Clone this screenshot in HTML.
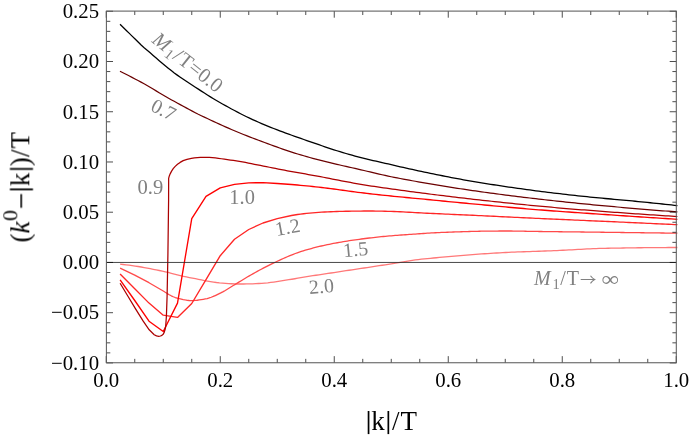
<!DOCTYPE html>
<html><head><meta charset="utf-8"><title>plot</title>
<style>
html,body{margin:0;padding:0;background:#fff;}
body{width:689px;height:436px;overflow:hidden;font-family:"Liberation Serif",serif;}
svg{display:block;}
svg text{font-family:"Liberation Serif",serif;}
.tl{font-size:20.8px;fill:#000;}
.cl{font-size:20px;fill:#808080;}
.ax{font-size:27px;fill:#000;}
.it{font-style:italic;}
</style></head><body>
<svg width="689" height="436" viewBox="0 0 689 436">
<rect x="0" y="0" width="689" height="436" fill="#ffffff"/>
<g fill="none" stroke-linejoin="round" stroke-linecap="butt">
<polyline points="120.10,264.20 123.11,264.49 126.12,264.82 129.14,265.19 132.15,265.59 135.16,266.03 138.17,266.51 141.19,267.01 144.20,267.54 147.21,268.10 150.22,268.67 153.24,269.27 156.25,269.88 159.26,270.51 162.27,271.15 165.29,271.80 168.30,272.48 171.31,273.29 174.32,274.12 177.34,274.89 180.35,275.61 183.36,276.29 186.37,276.92 189.39,277.52 192.40,278.12 195.41,278.70 198.42,279.30 201.44,279.93 204.45,280.54 207.46,281.06 210.47,281.58 213.49,282.06 216.50,282.49 219.51,282.85 222.52,283.12 225.54,283.35 228.55,283.56 231.56,283.75 234.57,283.89 237.58,283.98 240.60,284.00 243.61,283.98 246.62,283.95 249.63,283.91 252.65,283.83 255.66,283.70 258.67,283.52 261.68,283.31 264.70,283.08 267.71,282.79 270.72,282.43 273.73,282.02 276.75,281.58 279.76,281.12 282.77,280.65 285.78,280.19 288.80,279.73 291.81,279.25 294.82,278.74 297.83,278.22 300.85,277.69 303.86,277.17 306.87,276.66 309.88,276.17 312.90,275.70 315.91,275.24 318.92,274.78 321.93,274.33 324.95,273.89 327.96,273.44 330.97,272.99 333.98,272.54 337.00,272.08 340.01,271.63 343.02,271.17 346.03,270.72 349.04,270.26 352.06,269.81 355.07,269.36 358.08,268.90 361.09,268.45 364.11,268.00 367.12,267.55 370.13,267.10 373.14,266.64 376.16,266.18 379.17,265.72 382.18,265.25 385.19,264.78 388.21,264.30 391.22,263.82 394.23,263.34 397.24,262.86 400.26,262.37 403.27,261.87 406.28,261.36 409.29,260.86 412.31,260.39 415.32,259.95 418.33,259.56 421.34,259.21 424.36,258.89 427.37,258.58 430.38,258.29 433.39,258.01 436.41,257.73 439.42,257.45 442.43,257.17 445.44,256.89 448.46,256.62 451.47,256.34 454.48,256.08 457.49,255.81 460.50,255.56 463.52,255.30 466.53,255.05 469.54,254.80 472.55,254.56 475.57,254.35 478.58,254.14 481.59,253.93 484.60,253.73 487.62,253.53 490.63,253.34 493.64,253.15 496.65,252.98 499.67,252.81 502.68,252.64 505.69,252.49 508.70,252.35 511.72,252.21 514.73,252.09 517.74,251.97 520.75,251.86 523.77,251.76 526.78,251.66 529.79,251.56 532.80,251.46 535.82,251.35 538.83,251.24 541.84,251.13 544.85,251.01 547.87,250.90 550.88,250.78 553.89,250.65 556.90,250.53 559.92,250.40 562.93,250.27 565.94,250.12 568.95,249.96 571.96,249.80 574.98,249.63 577.99,249.46 581.00,249.30 584.01,249.13 587.03,248.97 590.04,248.82 593.05,248.68 596.06,248.56 599.08,248.45 602.09,248.36 605.10,248.30 608.11,248.24 611.13,248.19 614.14,248.13 617.15,248.08 620.16,248.03 623.18,247.98 626.19,247.93 629.20,247.89 632.21,247.85 635.23,247.80 638.24,247.77 641.25,247.73 644.26,247.69 647.28,247.66 650.29,247.63 653.30,247.61 656.31,247.58 659.33,247.56 662.34,247.54 665.35,247.53 668.36,247.52 671.38,247.51 674.39,247.50 677.40,247.50" stroke="#ff7878" stroke-width="1.30"/>
<polyline points="120.10,268.10 134.75,275.20 149.00,282.70 163.25,291.00 165.25,292.32 167.25,293.57 169.25,294.74 171.25,295.80 173.25,296.73 175.25,297.52 177.25,298.14 179.25,298.64 181.26,299.13 183.26,299.58 185.26,299.97 187.26,300.28 189.26,300.50 191.26,300.60 193.26,300.57 195.26,300.45 197.26,300.25 199.26,299.98 201.26,299.67 203.26,299.32 205.26,298.94 207.26,298.52 209.26,297.95 211.26,297.25 213.26,296.44 215.27,295.55 217.27,294.62 219.27,293.67 221.27,292.70 223.27,291.65 225.27,290.50 227.27,289.29 229.27,288.04 231.27,286.78 233.27,285.54 235.27,284.34 237.27,283.13 239.27,281.91 241.27,280.68 243.27,279.46 245.27,278.25 247.27,277.06 249.28,275.90 251.28,274.75 253.28,273.61 255.28,272.48 257.28,271.37 259.28,270.28 261.28,269.21 263.28,268.15 265.28,267.12 267.28,266.11 269.28,265.12 271.28,264.14 273.28,263.17 275.28,262.22 277.28,261.28 279.28,260.36 281.28,259.44 283.29,258.53 285.29,257.64 287.29,256.76 289.29,255.91 291.29,255.09 293.29,254.28 295.29,253.50 297.29,252.78 299.29,252.11 301.29,251.47 303.29,250.84 305.29,250.23 307.29,249.64 309.29,249.07 311.29,248.51 313.29,247.98 315.29,247.46 317.29,246.95 319.30,246.47 321.30,246.00 323.30,245.55 325.30,245.11 327.30,244.69 329.30,244.27 331.30,243.87 333.30,243.48 335.30,243.11 337.30,242.74 339.30,242.38 341.30,242.04 343.30,241.70 345.30,241.37 347.30,241.05 349.30,240.73 351.30,240.43 353.31,240.13 355.31,239.83 357.31,239.55 359.31,239.27 361.31,239.00 363.31,238.74 365.31,238.49 367.31,238.25 369.31,238.01 371.31,237.78 373.31,237.55 375.31,237.33 377.31,237.12 379.31,236.91 381.31,236.71 383.31,236.51 385.31,236.32 387.32,236.14 389.32,235.96 391.32,235.79 393.32,235.62 395.32,235.47 397.32,235.31 399.32,235.17 401.32,235.02 403.32,234.88 405.32,234.74 407.32,234.60 409.32,234.47 411.32,234.33 413.32,234.19 415.32,234.05 417.32,233.91 419.32,233.77 421.33,233.63 423.33,233.49 425.33,233.36 427.33,233.22 429.33,233.10 431.33,232.97 433.33,232.86 435.33,232.75 437.33,232.66 439.33,232.56 441.33,232.47 443.33,232.39 445.33,232.31 447.33,232.23 449.33,232.15 451.33,232.08 453.33,232.01 455.34,231.94 457.34,231.87 459.34,231.81 461.34,231.75 463.34,231.69 465.34,231.62 467.34,231.56 469.34,231.50 471.34,231.45 473.34,231.39 475.34,231.34 477.34,231.30 479.34,231.26 481.34,231.22 483.34,231.19 485.34,231.17 487.34,231.14 489.35,231.12 491.35,231.10 493.35,231.07 495.35,231.05 497.35,231.04 499.35,231.02 501.35,231.01 503.35,231.00 505.35,231.00 507.35,231.00 509.35,231.01 511.35,231.02 513.35,231.04 515.35,231.07 517.35,231.10 519.35,231.13 521.35,231.16 523.36,231.20 525.36,231.24 527.36,231.28 529.36,231.32 531.36,231.36 533.36,231.39 535.36,231.43 537.36,231.46 539.36,231.49 541.36,231.52 543.36,231.54 545.36,231.57 547.36,231.60 549.36,231.62 551.36,231.65 553.36,231.67 555.36,231.69 557.36,231.72 559.37,231.74 561.37,231.77 563.37,231.79 565.37,231.81 567.37,231.83 569.37,231.86 571.37,231.88 573.37,231.90 575.37,231.93 577.37,231.95 579.37,231.97 581.37,232.00 583.37,232.02 585.37,232.04 587.37,232.06 589.37,232.09 591.37,232.11 593.38,232.14 595.38,232.16 597.38,232.18 599.38,232.21 601.38,232.23 603.38,232.26 605.38,232.28 607.38,232.31 609.38,232.33 611.38,232.36 613.38,232.38 615.38,232.41 617.38,232.43 619.38,232.46 621.38,232.48 623.38,232.51 625.38,232.53 627.39,232.56 629.39,232.58 631.39,232.61 633.39,232.63 635.39,232.66 637.39,232.68 639.39,232.71 641.39,232.73 643.39,232.76 645.39,232.78 647.39,232.81 649.39,232.84 651.39,232.86 653.39,232.89 655.39,232.91 657.39,232.94 659.39,232.97 661.40,232.99 663.40,233.02 665.40,233.04 667.40,233.07 669.40,233.10 671.40,233.12 673.40,233.15 675.40,233.17 677.40,233.20" stroke="#ff4a4a" stroke-width="1.30"/>
<polyline points="120.10,274.05 134.75,288.70 149.00,303.10 163.25,315.20 177.50,317.40 191.75,303.50 206.00,279.60 220.25,255.70 234.50,239.20 248.75,229.50 263.00,223.00 277.25,218.60 291.50,215.50 294.51,214.98 297.53,214.50 300.54,214.09 303.56,213.73 306.57,213.40 309.59,213.11 312.60,212.84 315.62,212.59 318.63,212.36 321.65,212.17 324.66,212.01 327.68,211.87 330.69,211.73 333.71,211.61 336.72,211.50 339.74,211.41 342.75,211.34 345.77,211.28 348.78,211.22 351.80,211.17 354.81,211.12 357.83,211.08 360.84,211.05 363.86,211.02 366.87,211.00 369.89,211.00 372.90,211.02 375.92,211.06 378.93,211.12 381.95,211.19 384.96,211.26 387.98,211.35 390.99,211.43 394.00,211.53 397.02,211.65 400.03,211.78 403.05,211.93 406.06,212.09 409.08,212.26 412.09,212.43 415.11,212.60 418.12,212.77 421.14,212.93 424.15,213.09 427.17,213.24 430.18,213.38 433.20,213.52 436.21,213.65 439.23,213.79 442.24,213.93 445.26,214.06 448.27,214.19 451.29,214.33 454.30,214.46 457.32,214.60 460.33,214.73 463.35,214.86 466.36,215.00 469.38,215.14 472.39,215.28 475.41,215.42 478.42,215.56 481.44,215.70 484.45,215.84 487.46,215.99 490.48,216.13 493.49,216.28 496.51,216.42 499.52,216.57 502.54,216.71 505.55,216.86 508.57,217.01 511.58,217.15 514.60,217.30 517.61,217.44 520.63,217.59 523.64,217.73 526.66,217.88 529.67,218.02 532.69,218.16 535.70,218.30 538.72,218.44 541.73,218.58 544.75,218.72 547.76,218.85 550.78,218.99 553.79,219.12 556.81,219.26 559.82,219.39 562.84,219.52 565.85,219.65 568.87,219.79 571.88,219.92 574.90,220.05 577.91,220.18 580.92,220.31 583.94,220.45 586.95,220.58 589.97,220.71 592.98,220.84 596.00,220.98 599.01,221.11 602.03,221.25 605.04,221.39 608.06,221.52 611.07,221.66 614.09,221.79 617.10,221.93 620.12,222.07 623.13,222.20 626.15,222.34 629.16,222.48 632.18,222.62 635.19,222.75 638.21,222.89 641.22,223.03 644.24,223.17 647.25,223.31 650.27,223.44 653.28,223.58 656.30,223.72 659.31,223.86 662.33,224.00 665.34,224.14 668.36,224.28 671.37,224.42 674.39,224.56 677.40,224.70" stroke="#ff2626" stroke-width="1.35"/>
<polyline points="120.10,279.80 134.75,300.50 149.00,321.20 163.25,331.50 177.50,303.10 191.75,218.60 206.00,196.40 220.25,187.90 234.50,184.40 248.75,182.80 263.00,182.70 277.25,183.50 291.50,184.50 294.51,184.76 297.53,185.03 300.54,185.31 303.56,185.59 306.57,185.89 309.59,186.19 312.60,186.50 315.62,186.82 318.63,187.15 321.65,187.49 324.66,187.84 327.68,188.22 330.69,188.61 333.71,189.01 336.72,189.42 339.74,189.83 342.75,190.25 345.77,190.67 348.78,191.09 351.80,191.50 354.81,191.90 357.83,192.30 360.84,192.68 363.86,193.04 366.87,193.39 369.89,193.74 372.90,194.08 375.92,194.41 378.93,194.74 381.95,195.06 384.96,195.38 387.98,195.69 390.99,196.00 394.00,196.31 397.02,196.60 400.03,196.90 403.05,197.19 406.06,197.47 409.08,197.76 412.09,198.05 415.11,198.33 418.12,198.62 421.14,198.91 424.15,199.20 427.17,199.49 430.18,199.79 433.20,200.08 436.21,200.38 439.23,200.67 442.24,200.96 445.26,201.26 448.27,201.55 451.29,201.84 454.30,202.13 457.32,202.43 460.33,202.71 463.35,203.00 466.36,203.29 469.38,203.57 472.39,203.85 475.41,204.13 478.42,204.41 481.44,204.70 484.45,204.98 487.46,205.26 490.48,205.54 493.49,205.82 496.51,206.10 499.52,206.38 502.54,206.66 505.55,206.93 508.57,207.21 511.58,207.48 514.60,207.75 517.61,208.02 520.63,208.28 523.64,208.54 526.66,208.80 529.67,209.06 532.69,209.31 535.70,209.55 538.72,209.80 541.73,210.04 544.75,210.27 547.76,210.50 550.78,210.73 553.79,210.96 556.81,211.18 559.82,211.40 562.84,211.61 565.85,211.83 568.87,212.04 571.88,212.25 574.90,212.46 577.91,212.67 580.92,212.88 583.94,213.09 586.95,213.29 589.97,213.50 592.98,213.71 596.00,213.91 599.01,214.12 602.03,214.33 605.04,214.54 608.06,214.74 611.07,214.95 614.09,215.15 617.10,215.36 620.12,215.56 623.13,215.76 626.15,215.97 629.16,216.17 632.18,216.37 635.19,216.57 638.21,216.77 641.22,216.97 644.24,217.17 647.25,217.36 650.27,217.56 653.28,217.76 656.30,217.95 659.31,218.15 662.33,218.34 665.34,218.53 668.36,218.73 671.37,218.92 674.39,219.11 677.40,219.30" stroke="#ff0000" stroke-width="1.35"/>
<polyline points="120.10,283.20 127.80,296.00 135.10,308.10 143.20,321.20 149.20,329.80 154.20,334.80 156.50,335.90 158.80,336.30 160.40,336.00 161.90,335.40 163.20,334.20 164.20,332.40 165.00,329.80 165.70,326.30 166.40,316.20 167.10,296.00 167.90,255.00 168.60,200.00 168.65,178.30 169.30,175.90 170.30,173.60 171.60,171.10 173.20,168.70 175.20,166.40 177.50,164.30 180.10,162.40 183.20,160.60 187.00,159.30 191.40,158.40 194.40,157.89 197.40,157.54 200.40,157.38 203.40,157.27 206.40,157.26 209.40,157.41 212.40,157.65 215.40,157.94 218.40,158.34 221.40,158.75 224.40,159.18 227.40,159.62 230.40,160.06 233.40,160.49 236.40,160.93 239.40,161.40 242.40,161.92 245.40,162.47 248.40,163.06 251.40,163.67 254.40,164.28 257.40,164.88 260.40,165.47 263.40,166.07 266.40,166.66 269.40,167.26 272.40,167.86 275.40,168.46 278.40,169.05 281.40,169.64 284.40,170.22 287.40,170.79 290.40,171.34 293.40,171.89 296.40,172.42 299.40,172.95 302.40,173.47 305.40,173.99 308.40,174.52 311.40,175.04 314.40,175.58 317.40,176.12 320.40,176.67 323.40,177.25 326.40,177.83 329.40,178.43 332.40,179.02 335.40,179.61 338.40,180.20 341.40,180.77 344.40,181.34 347.40,181.91 350.40,182.47 353.40,183.03 356.40,183.58 359.40,184.11 362.40,184.62 365.40,185.11 368.40,185.58 371.40,186.03 374.40,186.48 377.40,186.92 380.40,187.34 383.40,187.77 386.40,188.19 389.40,188.61 392.40,189.04 395.40,189.46 398.40,189.88 401.40,190.30 404.40,190.72 407.40,191.13 410.40,191.53 413.40,191.93 416.40,192.33 419.40,192.72 422.40,193.11 425.40,193.49 428.40,193.87 431.40,194.25 434.40,194.63 437.40,195.00 440.40,195.37 443.40,195.74 446.40,196.10 449.40,196.47 452.40,196.83 455.40,197.18 458.40,197.53 461.40,197.89 464.40,198.23 467.40,198.58 470.40,198.92 473.40,199.26 476.40,199.59 479.40,199.93 482.40,200.26 485.40,200.59 488.40,200.92 491.40,201.25 494.40,201.58 497.40,201.90 500.40,202.22 503.40,202.54 506.40,202.86 509.40,203.18 512.40,203.49 515.40,203.80 518.40,204.10 521.40,204.40 524.40,204.70 527.40,205.00 530.40,205.29 533.40,205.58 536.40,205.86 539.40,206.14 542.40,206.42 545.40,206.69 548.40,206.96 551.40,207.23 554.40,207.50 557.40,207.76 560.40,208.02 563.40,208.27 566.40,208.53 569.40,208.78 572.40,209.03 575.40,209.27 578.40,209.51 581.40,209.76 584.40,209.99 587.40,210.23 590.40,210.46 593.40,210.70 596.40,210.93 599.40,211.15 602.40,211.38 605.40,211.60 608.40,211.83 611.40,212.05 614.40,212.27 617.40,212.49 620.40,212.71 623.40,212.92 626.40,213.14 629.40,213.35 632.40,213.56 635.40,213.77 638.40,213.98 641.40,214.18 644.40,214.39 647.40,214.59 650.40,214.79 653.40,214.99 656.40,215.18 659.40,215.38 662.40,215.57 665.40,215.76 668.40,215.95 671.40,216.13 674.40,216.32 677.40,216.50" stroke="#ab0000" stroke-width="1.25"/>
<polyline points="119.95,71.25 122.96,72.75 125.98,74.27 128.99,75.80 132.00,77.36 135.02,78.93 138.03,80.51 141.04,82.12 144.06,83.77 147.07,85.48 150.08,87.26 153.10,89.07 156.11,90.86 159.12,92.66 162.14,94.47 165.15,96.25 168.16,97.99 171.18,99.68 174.19,101.34 177.20,102.98 180.21,104.60 183.23,106.22 186.24,107.86 189.25,109.50 192.27,111.12 195.28,112.71 198.29,114.25 201.31,115.71 204.32,117.13 207.33,118.54 210.35,119.95 213.36,121.35 216.37,122.74 219.39,124.12 222.40,125.49 225.41,126.84 228.43,128.17 231.44,129.48 234.45,130.77 237.47,132.03 240.48,133.25 243.49,134.46 246.51,135.64 249.52,136.81 252.53,137.98 255.55,139.13 258.56,140.27 261.57,141.39 264.59,142.51 267.60,143.62 270.61,144.72 273.63,145.83 276.64,146.94 279.65,148.04 282.67,149.12 285.68,150.17 288.69,151.18 291.70,152.14 294.72,153.08 297.73,154.00 300.74,154.89 303.76,155.77 306.77,156.63 309.78,157.47 312.80,158.29 315.81,159.10 318.82,159.89 321.84,160.67 324.85,161.43 327.86,162.18 330.88,162.91 333.89,163.63 336.90,164.33 339.92,165.03 342.93,165.72 345.94,166.40 348.96,167.09 351.97,167.77 354.98,168.45 358.00,169.13 361.01,169.82 364.02,170.52 367.04,171.23 370.05,171.94 373.06,172.66 376.08,173.38 379.09,174.09 382.10,174.78 385.12,175.46 388.13,176.11 391.14,176.73 394.16,177.34 397.17,177.93 400.18,178.52 403.19,179.08 406.21,179.64 409.22,180.19 412.23,180.73 415.25,181.27 418.26,181.80 421.27,182.32 424.29,182.84 427.30,183.35 430.31,183.87 433.33,184.38 436.34,184.88 439.35,185.39 442.37,185.88 445.38,186.38 448.39,186.86 451.41,187.34 454.42,187.82 457.43,188.29 460.45,188.76 463.46,189.21 466.47,189.66 469.49,190.11 472.50,190.54 475.51,190.97 478.53,191.40 481.54,191.82 484.55,192.23 487.57,192.65 490.58,193.05 493.59,193.46 496.61,193.86 499.62,194.25 502.63,194.65 505.65,195.04 508.66,195.42 511.67,195.80 514.68,196.18 517.70,196.55 520.71,196.92 523.72,197.29 526.74,197.65 529.75,198.01 532.76,198.36 535.78,198.71 538.79,199.06 541.80,199.41 544.82,199.75 547.83,200.09 550.84,200.42 553.86,200.75 556.87,201.08 559.88,201.41 562.90,201.73 565.91,202.05 568.92,202.36 571.94,202.67 574.95,202.98 577.96,203.29 580.98,203.59 583.99,203.89 587.00,204.18 590.02,204.48 593.03,204.77 596.04,205.05 599.06,205.33 602.07,205.61 605.08,205.89 608.10,206.17 611.11,206.44 614.12,206.72 617.14,206.99 620.15,207.25 623.16,207.52 626.17,207.79 629.19,208.05 632.20,208.31 635.21,208.57 638.23,208.82 641.24,209.07 644.25,209.32 647.27,209.57 650.28,209.82 653.29,210.06 656.31,210.30 659.32,210.54 662.33,210.77 665.35,211.00 668.36,211.23 671.37,211.46 674.39,211.68 677.40,211.90" stroke="#6a0000" stroke-width="1.22"/>
<polyline points="120.04,24.30 123.05,27.24 126.07,30.19 129.08,33.14 132.09,36.09 135.10,39.04 138.12,42.06 141.13,45.00 144.14,47.66 147.15,50.20 150.17,52.82 153.18,55.45 156.19,58.06 159.21,60.64 162.22,63.16 165.23,65.67 168.24,68.15 171.26,70.57 174.27,72.91 177.28,75.13 180.30,77.26 183.31,79.32 186.32,81.32 189.33,83.28 192.35,85.23 195.36,87.18 198.37,89.15 201.38,91.11 204.40,93.06 207.41,94.99 210.42,96.89 213.44,98.76 216.45,100.57 219.46,102.31 222.47,104.01 225.49,105.67 228.50,107.31 231.51,108.94 234.52,110.56 237.54,112.15 240.55,113.71 243.56,115.24 246.58,116.72 249.59,118.16 252.60,119.55 255.61,120.92 258.63,122.25 261.64,123.56 264.65,124.84 267.67,126.09 270.68,127.31 273.69,128.51 276.70,129.68 279.72,130.83 282.73,131.97 285.74,133.08 288.75,134.18 291.77,135.26 294.78,136.33 297.79,137.39 300.81,138.44 303.82,139.49 306.83,140.53 309.84,141.58 312.86,142.63 315.87,143.67 318.88,144.72 321.89,145.75 324.91,146.78 327.92,147.79 330.93,148.79 333.95,149.78 336.96,150.74 339.97,151.69 342.98,152.61 346.00,153.51 349.01,154.38 352.02,155.23 355.04,156.04 358.05,156.83 361.06,157.60 364.07,158.35 367.09,159.08 370.10,159.80 373.11,160.51 376.12,161.21 379.14,161.90 382.15,162.59 385.16,163.28 388.18,163.98 391.19,164.68 394.20,165.37 397.21,166.07 400.23,166.76 403.24,167.45 406.25,168.13 409.26,168.80 412.28,169.47 415.29,170.14 418.30,170.79 421.32,171.43 424.33,172.07 427.34,172.69 430.35,173.31 433.37,173.93 436.38,174.54 439.39,175.15 442.40,175.75 445.42,176.35 448.43,176.94 451.44,177.52 454.46,178.09 457.47,178.66 460.48,179.22 463.49,179.76 466.51,180.30 469.52,180.82 472.53,181.34 475.55,181.84 478.56,182.34 481.57,182.83 484.58,183.32 487.60,183.80 490.61,184.28 493.62,184.75 496.63,185.21 499.65,185.67 502.66,186.13 505.67,186.58 508.69,187.02 511.70,187.46 514.71,187.89 517.72,188.32 520.74,188.74 523.75,189.15 526.76,189.56 529.77,189.97 532.79,190.37 535.80,190.76 538.81,191.15 541.83,191.53 544.84,191.91 547.85,192.28 550.86,192.65 553.88,193.02 556.89,193.38 559.90,193.73 562.92,194.08 565.93,194.43 568.94,194.77 571.95,195.11 574.97,195.44 577.98,195.77 580.99,196.09 584.00,196.41 587.02,196.72 590.03,197.03 593.04,197.34 596.06,197.64 599.07,197.94 602.08,198.22 605.09,198.49 608.11,198.75 611.12,199.01 614.13,199.27 617.14,199.54 620.16,199.81 623.17,200.10 626.18,200.38 629.20,200.67 632.21,200.96 635.22,201.25 638.23,201.55 641.25,201.84 644.26,202.14 647.27,202.44 650.29,202.75 653.30,203.05 656.31,203.36 659.32,203.67 662.34,203.99 665.35,204.30 668.36,204.62 671.37,204.95 674.39,205.27 677.40,205.60" stroke="#000000" stroke-width="1.28"/>
</g>
<line x1="106.40" y1="262.45" x2="676.30" y2="262.45" stroke="#262626" stroke-width="0.85"/>
<path d="M106.25 362.75v-6.60M106.25 11.10v6.60M134.75 362.75v-3.90M134.75 11.10v3.90M163.25 362.75v-3.90M163.25 11.10v3.90M191.75 362.75v-3.90M191.75 11.10v3.90M220.25 362.75v-6.60M220.25 11.10v6.60M248.75 362.75v-3.90M248.75 11.10v3.90M277.25 362.75v-3.90M277.25 11.10v3.90M305.75 362.75v-3.90M305.75 11.10v3.90M334.25 362.75v-6.60M334.25 11.10v6.60M362.75 362.75v-3.90M362.75 11.10v3.90M391.25 362.75v-3.90M391.25 11.10v3.90M419.75 362.75v-3.90M419.75 11.10v3.90M448.25 362.75v-6.60M448.25 11.10v6.60M476.75 362.75v-3.90M476.75 11.10v3.90M505.25 362.75v-3.90M505.25 11.10v3.90M533.75 362.75v-3.90M533.75 11.10v3.90M562.25 362.75v-6.60M562.25 11.10v6.60M590.75 362.75v-3.90M590.75 11.10v3.90M619.25 362.75v-3.90M619.25 11.10v3.90M647.75 362.75v-3.90M647.75 11.10v3.90M676.25 362.75v-6.60M676.25 11.10v6.60M106.40 362.92h6.60M676.30 362.92h-6.60M106.40 352.87h3.90M676.30 352.87h-3.90M106.40 342.83h3.90M676.30 342.83h-3.90M106.40 332.78h3.90M676.30 332.78h-3.90M106.40 322.73h3.90M676.30 322.73h-3.90M106.40 312.69h6.60M676.30 312.69h-6.60M106.40 302.64h3.90M676.30 302.64h-3.90M106.40 292.59h3.90M676.30 292.59h-3.90M106.40 282.54h3.90M676.30 282.54h-3.90M106.40 272.50h3.90M676.30 272.50h-3.90M106.40 262.45h6.60M676.30 262.45h-6.60M106.40 252.40h3.90M676.30 252.40h-3.90M106.40 242.36h3.90M676.30 242.36h-3.90M106.40 232.31h3.90M676.30 232.31h-3.90M106.40 222.26h3.90M676.30 222.26h-3.90M106.40 212.21h6.60M676.30 212.21h-6.60M106.40 202.17h3.90M676.30 202.17h-3.90M106.40 192.12h3.90M676.30 192.12h-3.90M106.40 182.07h3.90M676.30 182.07h-3.90M106.40 172.03h3.90M676.30 172.03h-3.90M106.40 161.98h6.60M676.30 161.98h-6.60M106.40 151.93h3.90M676.30 151.93h-3.90M106.40 141.88h3.90M676.30 141.88h-3.90M106.40 131.84h3.90M676.30 131.84h-3.90M106.40 121.79h3.90M676.30 121.79h-3.90M106.40 111.74h6.60M676.30 111.74h-6.60M106.40 101.70h3.90M676.30 101.70h-3.90M106.40 91.65h3.90M676.30 91.65h-3.90M106.40 81.60h3.90M676.30 81.60h-3.90M106.40 71.55h3.90M676.30 71.55h-3.90M106.40 61.51h6.60M676.30 61.51h-6.60M106.40 51.46h3.90M676.30 51.46h-3.90M106.40 41.41h3.90M676.30 41.41h-3.90M106.40 31.37h3.90M676.30 31.37h-3.90M106.40 21.32h3.90M676.30 21.32h-3.90M106.40 11.27h6.60M676.30 11.27h-6.60" stroke="#000" stroke-width="0.7" fill="none"/>
<rect x="106.40" y="11.10" width="569.90" height="351.65" fill="none" stroke="#5c5c5c" stroke-width="1.05"/>
<g id="txt" style="opacity:0.999">
<text class="tl" x="106.25" y="387.2" text-anchor="middle">0.0</text>
<text class="tl" x="220.25" y="387.2" text-anchor="middle">0.2</text>
<text class="tl" x="334.25" y="387.2" text-anchor="middle">0.4</text>
<text class="tl" x="448.25" y="387.2" text-anchor="middle">0.6</text>
<text class="tl" x="562.25" y="387.2" text-anchor="middle">0.8</text>
<text class="tl" x="676.25" y="387.2" text-anchor="middle">1.0</text>
<text class="tl" x="99.1" y="369.72" text-anchor="end">−0.10</text>
<text class="tl" x="99.1" y="319.49" text-anchor="end">−0.05</text>
<text class="tl" x="99.1" y="269.25" text-anchor="end">0.00</text>
<text class="tl" x="99.1" y="219.01" text-anchor="end">0.05</text>
<text class="tl" x="99.1" y="168.78" text-anchor="end">0.10</text>
<text class="tl" x="99.1" y="118.54" text-anchor="end">0.15</text>
<text class="tl" x="99.1" y="68.31" text-anchor="end">0.20</text>
<text class="tl" x="99.1" y="18.07" text-anchor="end">0.25</text>
<rect x="367.7" y="411.0" width="1.7" height="23.1" fill="#000"/>
<rect x="387.5" y="411.0" width="1.7" height="23.1" fill="#000"/>
<text class="ax" x="371.2" y="429.8">k</text>
<text class="ax" x="392.1" y="429.8">/</text>
<text class="ax" x="400.6" y="429.8">T</text>
<g transform="translate(29.3 242.5) rotate(-90)">
<text class="ax" x="0" y="0">(</text>
<text class="ax it" x="9" y="0">k</text>
<text class="ax" x="21.4" y="-11.8" style="font-size:22px">0</text>
<rect x="34.7" y="-8.85" width="13.7" height="1.6" fill="#000"/>
<rect x="52.25" y="-19.4" width="1.8" height="23.1" fill="#000"/>
<text class="ax" x="56.2" y="0">k</text>
<rect x="72.65" y="-19.4" width="1.8" height="23.1" fill="#000"/>
<text class="ax" x="76.3" y="0">)</text>
<text class="ax" x="85.5" y="0">/</text>
<text class="ax" x="94.0" y="0">T</text>
</g>
<g transform="translate(150.9 41.7) rotate(38.3) scale(1.025)">
<text class="cl it" x="0" y="0">M</text>
<text class="cl" x="18.1" y="3.3" style="font-size:14.5px">1</text>
<text class="cl" x="26.0" y="0">/</text>
<text class="cl" x="32.4" y="0">T</text>
<text class="cl" x="45.0" y="0">=0.0</text>
</g>
<text class="cl" transform="translate(163.7 109.5) rotate(27)" text-anchor="middle" y="7">0.7</text>
<text class="cl" x="150.4" y="194.0" text-anchor="middle" style="font-size:20.6px">0.9</text>
<text class="cl" x="242.1" y="204.4" text-anchor="middle" style="font-size:20.4px">1.0</text>
<text class="cl" transform="translate(287.4 226.8) rotate(-10.5)" text-anchor="middle" y="7">1.2</text>
<text class="cl" transform="translate(355.6 249.1) rotate(-5.5)" text-anchor="middle" y="7">1.5</text>
<text class="cl" transform="translate(321.3 286.0) rotate(-5)" text-anchor="middle" y="7">2.0</text>
<text class="cl it" x="534" y="284.6">M</text>
<text class="cl" x="552.4" y="288.6" style="font-size:14.5px">1</text>
<text class="cl" x="560.2" y="284.6">/</text>
<text class="cl" x="566.8" y="284.6">T</text>
<path d="M580.7 279.5H594.4M590.5 275.8Q592.2 278.3 594.7 279.5Q592.2 280.7 590.5 283.4" fill="none" stroke="#808080" stroke-width="1.1"/>
<text class="cl" transform="translate(601.4 286.3) scale(1.03 0.87)" style="font-size:24px">∞</text>
</g>
</svg>
</body></html>
